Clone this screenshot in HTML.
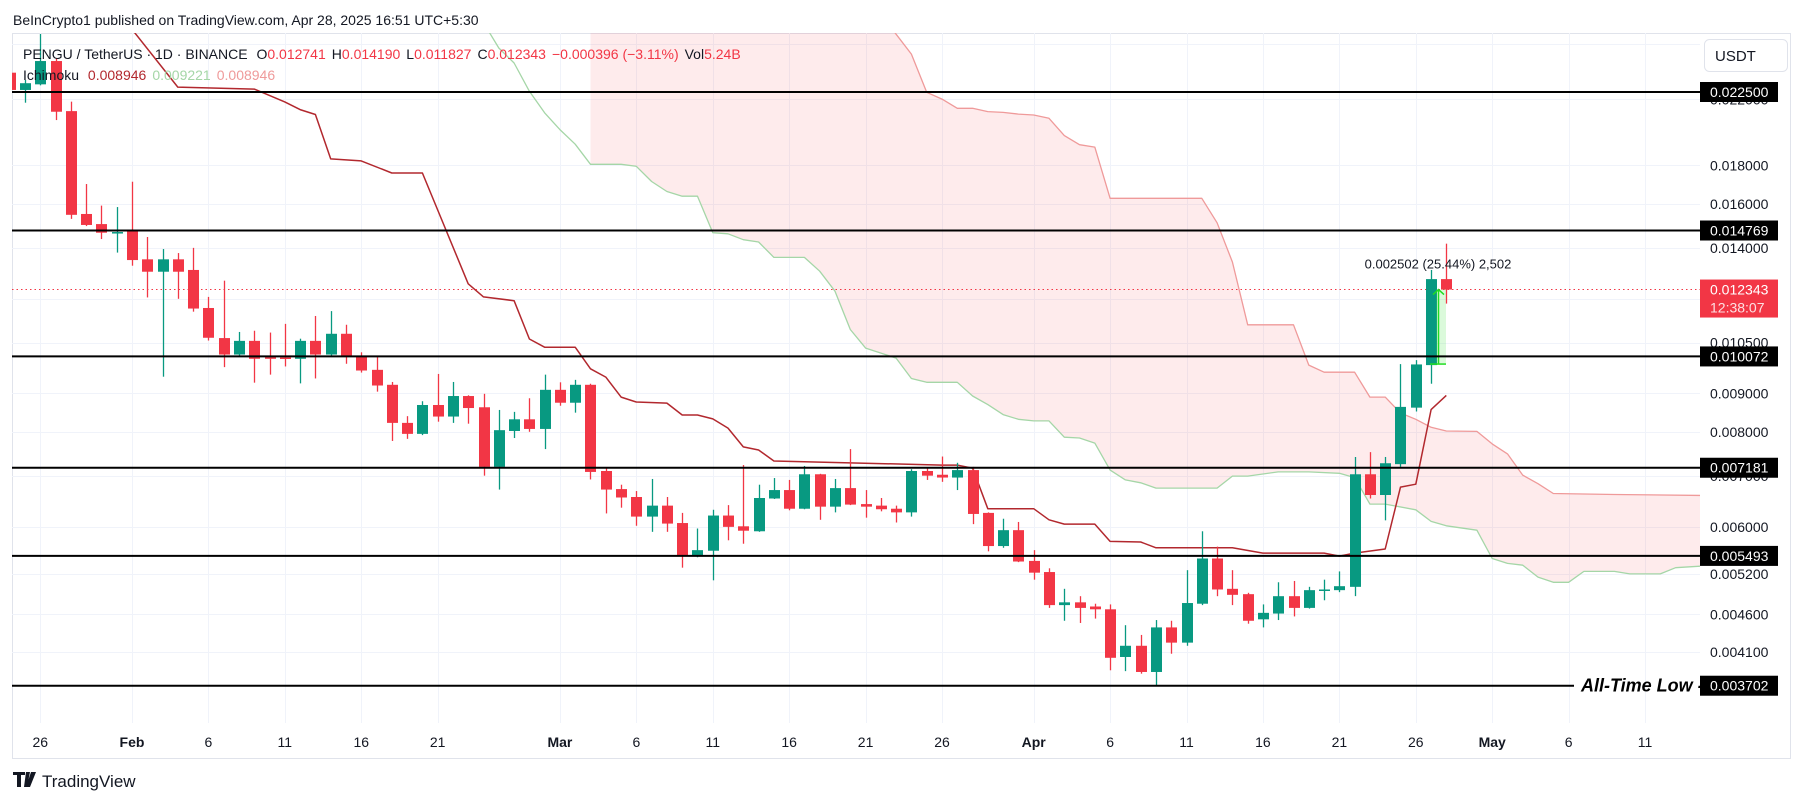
<!DOCTYPE html>
<html><head><meta charset="utf-8"><style>
html,body{margin:0;padding:0;background:#fff;}
svg{display:block;font-family:"Liberation Sans",sans-serif;}
</style></head><body>
<svg id="chart" width="1804" height="803" viewBox="0 0 1804 803" xmlns="http://www.w3.org/2000/svg">
<defs><clipPath id="plotClip"><rect x="12" y="33" width="1688" height="725"/></clipPath></defs>
<rect x="0" y="0" width="1804" height="803" fill="#ffffff"/>
<rect x="12.5" y="33.5" width="1778" height="725" fill="none" stroke="#e0e3eb" stroke-width="1"/>
<g id="grid"></g>
<g id="plot" clip-path="url(#plotClip)"></g>
<g id="axis"></g>
<g id="xaxis"></g>
<text x="13" y="25" font-size="14" fill="#131722">BeInCrypto1 published on TradingView.com, Apr 28, 2025 16:51 UTC+5:30</text>
<text x="23" y="59" font-size="14" fill="#131722">PENGU / TetherUS · 1D · BINANCE <tspan dx="5">O</tspan><tspan fill="#f23645">0.012741</tspan><tspan dx="6">H</tspan><tspan fill="#f23645">0.014190</tspan><tspan dx="6">L</tspan><tspan fill="#f23645">0.011827</tspan><tspan dx="6">C</tspan><tspan fill="#f23645">0.012343</tspan><tspan dx="6" fill="#f23645">−0.000396 (−3.11%)</tspan><tspan dx="6">Vol</tspan><tspan fill="#f23645">5.24B</tspan></text>
<text x="23" y="80" font-size="14" fill="#131722">Ichimoku <tspan dx="5" fill="#b2282e">0.008946</tspan><tspan dx="6" fill="#a5d6a7">0.009221</tspan><tspan dx="6" fill="#ef9a9a">0.008946</tspan></text>
<rect x="1704.5" y="39.5" width="83" height="32" rx="5" fill="#fff" stroke="#e0e3eb"/>
<text x="1715" y="61" font-size="15" fill="#131722">USDT</text>
<g>
<path d="M13 772h12v3h-4v12h-4v-12h-4z M26 772h4l-3 15h-3z M31 772h5l-6 15h-4z" fill="#131722"/>
<text x="42" y="787" font-size="17" fill="#131722">TradingView</text>
</g>
</svg>
<script>
const candleStartDay = -2;
const opens = [.02386,.02264,.02303,.02472,.02123,.01553,.01506,.01466,.01475,.01353,.01303,.01353,.01310,.01167,.01065,.01013,.01056,.01005,.01004,.01000,.01056,.01013,.01079,.01010,.00967,.00924,.00823,.00796,.00869,.00839,.00893,.00863,.00720,.00803,.00832,.00808,.00910,.00875,.00924,.00711,.00673,.00657,.00619,.00640,.00607,.00550,.00558,.00621,.00601,.00592,.00654,.00671,.00634,.00704,.00638,.00675,.00643,.00640,.00634,.00627,.00711,.00703,.00697,.00713,.00626,.00566,.00594,.00541,.00523,.00473,.00477,.00471,.00467,.00404,.00418,.00386,.00442,.00422,.00475,.00545,.00497,.00489,.00453,.00461,.00486,.00469,.00494,.00495,.00500,.00704,.00661,.00726,.00862,.00981,.012741];
const highs = [.02400,.02334,.02684,.02495,.02185,.01701,.01593,.01586,.01713,.01448,.01396,.01379,.01401,.01207,.01268,.01085,.01089,.01083,.01112,.01063,.01139,.01156,.01109,.01020,.01005,.00932,.00840,.00879,.00955,.00932,.00895,.00899,.00856,.00851,.00887,.00953,.00931,.00938,.00927,.00717,.00682,.00669,.00694,.00657,.00626,.00597,.00632,.00641,.00724,.00682,.00696,.00692,.00722,.00705,.00694,.00760,.00671,.00655,.00640,.00715,.00719,.00743,.00729,.00720,.00627,.00615,.00609,.00559,.00529,.00497,.00486,.00475,.00474,.00445,.00432,.00452,.00451,.00526,.00592,.00565,.00526,.00491,.00474,.00507,.00509,.00500,.00511,.00524,.00742,.00753,.00742,.00984,.00996,.01310,.014190];
const lows = [.02255,.02178,.02296,.02066,.01530,.01497,.01439,.01381,.01327,.01205,.00947,.01200,.01154,.01057,.00975,.01009,.00930,.00953,.00977,.00928,.00942,.01009,.00985,.00959,.00905,.00779,.00784,.00793,.00826,.00823,.00821,.00701,.00672,.00786,.00801,.00760,.00867,.00849,.00693,.00625,.00636,.00602,.00591,.00591,.00530,.00547,.00510,.00576,.00570,.00591,.00653,.00631,.00633,.00613,.00627,.00641,.00617,.00629,.00608,.00619,.00692,.00688,.00671,.00605,.00557,.00563,.00539,.00511,.00469,.00451,.00448,.00454,.00388,.00387,.00384,.003702,.00408,.00418,.00473,.00486,.00473,.00447,.00442,.00452,.00457,.00468,.00480,.00492,.00486,.00654,.00612,.00720,.00852,.00927,.011827];
const closes = [.02264,.02311,.02472,.02119,.01549,.01502,.01467,.01470,.01350,.01303,.01353,.01303,.01165,.01066,.01013,.01056,.01000,.01000,.01000,.01056,.01013,.01079,.01010,.00965,.00922,.00823,.00796,.00869,.00839,.00893,.00861,.00720,.00805,.00832,.00808,.00910,.00875,.00924,.00709,.00672,.00656,.00619,.00640,.00606,.00550,.00559,.00621,.00600,.00593,.00655,.00671,.00634,.00704,.00638,.00675,.00642,.00638,.00633,.00627,.00711,.00701,.00697,.00713,.00624,.00566,.00594,.00540,.00522,.00473,.00477,.00469,.00467,.00403,.00418,.00386,.00442,.00422,.00476,.00545,.00496,.00488,.00451,.00462,.00486,.00469,.00495,.00496,.00501,.00704,.00661,.00728,.00864,.00983,.012741,.012343];

const baseDays = [5,9,14,16,17,18,19,21,23,25,28,29,31,32,33,35,36,37,38,39,41,42,43,44,45,46,47,48,59,60,61,62,65,66,67,69,70,72,73,78,80,84,85,86,88,89,90,91,92];
const baseVals = [.02887,.02284,.02270,.02183,.02133,.02101,.01836,.01825,.01759,.01759,.01256,.01207,.01193,.01062,.01036,.01036,.00970,.00946,.00890,.00877,.00874,.00843,.00843,.00833,.00810,.00765,.00758,.00733,.00724,.00724,.00717,.00634,.00634,.00613,.00605,.00605,.00574,.00573,.00563,.00563,.00554,.00554,.00549,.00554,.00561,.00677,.00683,.00857,.008946];

const leadADays = [28,30,31,32,33,34,35,36,38,39,40,41,42,43,44,45,46,47,48,50,51,52,53,54,56,57,58,60,61,62,63,64,65,66,67,68,69,70,71,72,73,77,78,79,81,83,85,86,87,88,90,91,92,94,95,96,97,98,99,100,101,103,104,106,107,109];
const leadAVals = [.0300,.02572,.02457,.02255,.02112,.02007,.01920,.01806,.01806,.01795,.01714,.01663,.01639,.01639,.01467,.01462,.01436,.01426,.01361,.01361,.01305,.01228,.01093,.01033,.01002,.00942,.00931,.00931,.00893,.00870,.00844,.00832,.00828,.00828,.00788,.00786,.00774,.00713,.00692,.00686,.00675,.00675,.00700,.00700,.00709,.00709,.00706,.00697,.00643,.00643,.00632,.00610,.00602,.00594,.00545,.00537,.00534,.00515,.00507,.00507,.00524,.00524,.00520,.00520,.00530,.00533];

const leadBDays = [36,55,56,57,58,59,60,61,62,63,64,65,66,67,68,69,70,76,77,78,79,82,83,84,86,87,88,89,90,91,92,94,95,96,97,98,99,103,109];
const leadBVals = [.0300,.0285,.02682,.02525,.02248,.02202,.02141,.02141,.02120,.02115,.02104,.02098,.02077,.01971,.01917,.01903,.01629,.01629,.01512,.01342,.01109,.01109,.00981,.00960,.00960,.00890,.00890,.00848,.00832,.00812,.00803,.00802,.00772,.00749,.00702,.00684,.00664,.00662,.00660];

const tickVals = [0.026,0.022,0.018,0.016,0.014,0.012,0.0105,0.009,0.008,0.007,0.006,0.0052,0.0046,0.0041];
const tickShown = [false,true,true,true,true,false,true,true,true,true,true,true,true,true];
const levelVals = [0.0225,0.014769,0.010072,0.007181,0.005493,0.003702];
const levelLabels = ["0.022500","0.014769","0.010072","0.007181","0.005493","0.003702"];
const dateDays = [0,6,11,16,21,26,34,39,44,49,54,59,65,70,75,80,85,90,95,100,105];
const dateLabels = ["26","Feb","6","11","16","21","Mar","6","11","16","21","26","Apr","6","11","16","21","26","May","6","11"];
const dateBold = [false,true,false,false,false,false,true,false,false,false,false,false,true,false,false,false,false,false,true,false,false];
const lastPrice = 0.012343;
const measureFrom = 0.009841;

const NS = "http://www.w3.org/2000/svg";
function xOf(d){ return 40.3 + 15.283 * d; }
function yOf(p){ return 92 + Math.log(0.0225 / p) * 329; }
function mk(tag, attrs, parent){
  const el = document.createElementNS(NS, tag);
  for (const k in attrs) el.setAttribute(k, attrs[k]);
  parent.appendChild(el);
  return el;
}
const grid = document.getElementById('grid');
const plot = document.getElementById('plot');
const axis = document.getElementById('axis');
const xaxis = document.getElementById('xaxis');

tickVals.forEach(function(v){
  const y = Math.round(yOf(v)) + 0.5;
  const g = mk('line', {x1:12, x2:1700, y1:y, y2:y, stroke:'#f0f3fa', 'stroke-width':1}, grid);
  
  
});
dateDays.forEach(function(d){
  const x = Math.round(xOf(d)) + 0.5;
  const g = mk('line', {x1:x, x2:x, y1:33, y2:723, stroke:'#f0f3fa', 'stroke-width':1}, grid);
  
  
});

let pts = [];
leadADays.forEach(function(d,i){ if (d >= 36) pts.push(xOf(d).toFixed(1) + ',' + yOf(leadAVals[i]).toFixed(1)); });
for (let i = leadBDays.length - 1; i >= 0; i--) pts.push(xOf(leadBDays[i]).toFixed(1) + ',' + yOf(leadBVals[i]).toFixed(1));
const cloud = mk('polygon', {points: pts.join(' '), fill:'rgba(242,54,69,0.1)'}, plot);



function polyline(days, vals, color, w){
  return mk('polyline', {points: days.map(function(d,i){ return xOf(d).toFixed(1) + ',' + yOf(vals[i]).toFixed(1); }).join(' '), fill:'none', stroke:color, 'stroke-width':w, 'stroke-linejoin':'round'}, plot);
}
const la = polyline(leadADays, leadAVals, '#a5d6a7', 1.3);


const lb = polyline(leadBDays, leadBVals, '#ef9a9a', 1.3);


const bl = polyline(baseDays, baseVals, '#b2282e', 1.5);



const ly = yOf(lastPrice);
const lpl = mk('line', {x1:12, x2:1700, y1:ly, y2:ly, stroke:'#f23645', 'stroke-width':1, 'stroke-dasharray':'1.5 3'}, plot);



opens.forEach(function(o,i){
  const d = candleStartDay + i;
  const c = closes[i], h = highs[i], l = lows[i];
  const x = xOf(d);
  const col = c >= o ? '#089981' : '#f23645';
  const g = mk('g', {}, plot);
  
  
  const wick = mk('line', {x1:Math.round(x)+0.5, x2:Math.round(x)+0.5, y1:yOf(h), y2:yOf(l), stroke:col, 'stroke-width':1.3}, g);
  
  
  const top = Math.min(yOf(o), yOf(c));
  const hh = Math.max(1.5, Math.abs(yOf(o) - yOf(c)));
  const body = mk('rect', {x:Math.round(x)-5, y:top, width:11, height:hh, fill:col}, g);
  
  
});

const mTop = yOf(lastPrice), mBot = yOf(measureFrom);
const mRect = mk('rect', {x:1436, y:mTop, width:10, height:mBot - mTop, fill:'rgba(76,230,76,0.2)'}, plot);


const mLine = mk('line', {x1:1438.5, x2:1438.5, y1:mTop, y2:mBot, stroke:'#22dd22', 'stroke-width':1.5}, plot);


const mBase = mk('line', {x1:1430, x2:1446, y1:mBot, y2:mBot, stroke:'#22dd22', 'stroke-width':1.5}, plot);


const mArrow = mk('polyline', {points:'1433,'+(mTop+5)+' 1438.5,'+mTop+' 1444,'+(mTop+5), fill:'none', stroke:'#22dd22', 'stroke-width':1.5}, plot);


const mText = mk('text', {x:1438, y:mTop - 21, 'font-size':13, fill:'#131722', 'text-anchor':'middle'}, plot);
mText.textContent = '0.002502 (25.44%) 2,502';



levelVals.forEach(function(v,i){
  const y = yOf(v);
  const x2 = (i === levelVals.length - 1) ? 1574 : 1700;
  const ln = mk('line', {x1:12, x2:x2, y1:y, y2:y, stroke:'#000', 'stroke-width':2}, plot);
  
  
});
const atl = mk('text', {x:1581, y:yOf(0.003702) + 6, 'font-size':18, 'font-style':'italic', 'font-weight':'bold', fill:'#000'}, plot);
atl.textContent = 'All-Time Low -';



tickVals.forEach(function(v,i){
  if (!tickShown[i]) return;
  const t = mk('text', {x:1710, y:yOf(v) + 5, 'font-size':14, fill:'#131722'}, axis);
  t.textContent = v.toFixed(6);
  
  
});
levelVals.forEach(function(v,i){
  const y = yOf(v);
  const r = mk('rect', {x:1700, y:y - 10, width:78, height:20, fill:'#000'}, axis);
  
  
  const t = mk('text', {x:1710, y:y + 5, 'font-size':14, fill:'#fff'}, axis);
  t.textContent = levelLabels[i];
  
  
});
const lpBox = mk('rect', {x:1700, y:ly - 10, width:78, height:38, fill:'#f23645'}, axis);


const lpT = mk('text', {x:1710, y:ly + 5, 'font-size':14, fill:'#fff'}, axis);
lpT.textContent = lastPrice.toFixed(6);


const cdT = mk('text', {x:1710, y:ly + 23, 'font-size':14, fill:'#fde0e2'}, axis);
cdT.textContent = '12:38:07';



dateDays.forEach(function(d,i){
  const t = mk('text', {x:xOf(d), y:747, 'font-size':14, fill:'#131722', 'text-anchor':'middle'}, xaxis);
  if (dateBold[i]) t.setAttribute('font-weight', 'bold');
  t.textContent = dateLabels[i];
  
  
});
</script>
</body></html>
